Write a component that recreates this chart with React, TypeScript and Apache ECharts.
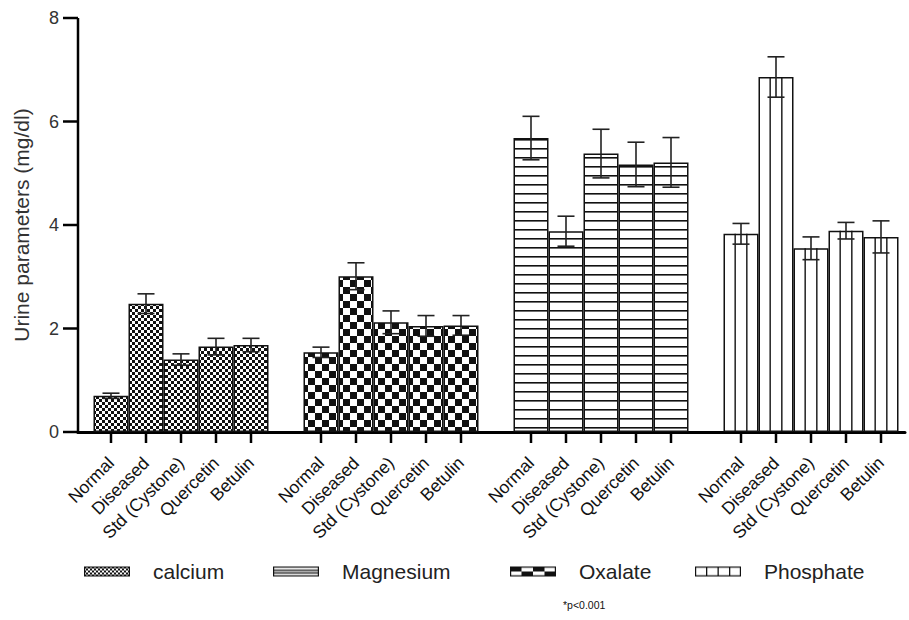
import React, { useEffect, useRef } from "react";
import * as echarts from "echarts";

const treatments = ["Normal", "Diseased", "Std (Cystone)", "Quercetin", "Betulin"];
// chart order of the four groups (left to right)
const groupNames = ["calcium", "Oxalate", "Magnesium", "Phosphate"];
const legendOrder = ["calcium", "Magnesium", "Oxalate", "Phosphate"];

const calciumMean = [0.7, 2.48, 1.4, 1.65, 1.68];
const calciumErr = [0.05, 0.19, 0.11, 0.16, 0.13];
const oxalateMean = [1.54, 3.01, 2.12, 2.05, 2.06];
const oxalateErr = [0.1, 0.26, 0.22, 0.2, 0.19];
const magnesiumMean = [5.68, 3.88, 5.38, 5.17, 5.21];
const magnesiumErr = [0.42, 0.29, 0.47, 0.43, 0.48];
const phosphateMean = [3.83, 6.86, 3.55, 3.89, 3.77];
const phosphateErr = [0.2, 0.39, 0.22, 0.16, 0.31];

const yMin = 0;
const yMax = 8;
const yInterval = 2;
const yTicks = [0, 2, 4, 6, 8];

const FONT = "'Liberation Sans', Arial, sans-serif";

function makeCanvas(w: number, h: number, draw: (ctx: CanvasRenderingContext2D) => void) {
  const c = document.createElement("canvas");
  c.width = w;
  c.height = h;
  const ctx = c.getContext("2d")!;
  ctx.fillStyle = "#ffffff";
  ctx.fillRect(0, 0, w, h);
  ctx.fillStyle = "#111111";
  draw(ctx);
  return c;
}

function makeIcon(draw: (ctx: CanvasRenderingContext2D) => void) {
  const c = makeCanvas(46, 10, (ctx) => {
    draw(ctx);
    ctx.strokeStyle = "#111";
    ctx.lineWidth = 1.2;
    ctx.strokeRect(0.6, 0.6, 44.8, 8.8);
  });
  return "image://" + c.toDataURL();
}

export default function App() {
  const ref = useRef<HTMLDivElement>(null);
  useEffect(() => {
    if (!ref.current) return;
    const chart = echarts.init(ref.current, undefined, { renderer: "svg" });

    const means = [calciumMean, oxalateMean, magnesiumMean, phosphateMean];
    const errs = [calciumErr, oxalateErr, magnesiumErr, phosphateErr];

    const categories: string[] = [];
    const slotOf: number[][] = [];
    groupNames.forEach((_, g) => {
      if (g > 0) categories.push("");
      slotOf.push([]);
      treatments.forEach((t) => {
        slotOf[g].push(categories.length);
        categories.push(t);
      });
    });

    const fineChecker = makeCanvas(6, 6, (ctx) => {
      ctx.fillRect(0, 0, 3, 3);
      ctx.fillRect(3, 3, 3, 3);
    });
    const bigChecker = makeCanvas(14, 14, (ctx) => {
      ctx.fillRect(0, 0, 7, 7);
      ctx.fillRect(7, 7, 7, 7);
    });
    const hLines = makeCanvas(6, 9, (ctx) => {
      ctx.fillRect(0, 4, 6, 1.6);
    });
    const fills: any[] = [
      { image: fineChecker, repeat: "repeat" },
      { image: bigChecker, repeat: "repeat" },
      { image: hLines, repeat: "repeat" },
      "#ffffff",
    ];

    const icons: Record<string, string> = {
      calcium: makeIcon((ctx) => {
        for (let x = 0; x < 46; x += 4) {
          for (let y = 0; y < 10; y += 4) {
            ctx.fillRect(x, y, 2, 2);
            ctx.fillRect(x + 2, y + 2, 2, 2);
          }
        }
      }),
      Magnesium: makeIcon((ctx) => {
        ctx.fillRect(0, 3.2, 46, 1.3);
        ctx.fillRect(0, 5.8, 46, 1.3);
      }),
      Oxalate: makeIcon((ctx) => {
        for (let k = 0; k < 4; k++) {
          const x = k * 11.5;
          if (k % 2 === 0) ctx.fillRect(x, 0, 11.5, 5);
          else ctx.fillRect(x, 5, 11.5, 5);
        }
      }),
      Phosphate: makeIcon((ctx) => {
        ctx.fillRect(11, 0, 1.3, 10);
        ctx.fillRect(22.5, 0, 1.3, 10);
        ctx.fillRect(34, 0, 1.3, 10);
      }),
    };

    const barSeries = groupNames.map((name, g) => ({
      name,
      type: "bar",
      xAxisIndex: 0,
      yAxisIndex: 0,
      barGap: "-100%",
      barCategoryGap: "0%",
      itemStyle: { color: fills[g], borderColor: "#111", borderWidth: 1.5 },
      emphasis: { disabled: true },
      data: categories.map((_, idx) => {
        const i = slotOf[g].indexOf(idx);
        return i >= 0 ? means[g][i] : "-";
      }),
      z: 2,
    }));

    const phosphateIdx = groupNames.indexOf("Phosphate");
    const hatchSeries = {
      type: "custom",
      xAxisIndex: 0,
      yAxisIndex: 0,
      z: 3,
      silent: true,
      data: treatments.map((_, i) => [slotOf[phosphateIdx][i], means[phosphateIdx][i]]),
      renderItem: (params: any, api: any) => {
        const top = api.coord([api.value(0), api.value(1)]);
        const base = api.coord([api.value(0), 0]);
        const w = api.size([1, 0])[0];
        const left = top[0] - w / 2;
        const style = { stroke: "#111", lineWidth: 1.4 };
        return {
          type: "group",
          children: [1, 2].map((k) => ({
            type: "line",
            shape: { x1: left + (w * k) / 3, y1: top[1], x2: left + (w * k) / 3, y2: base[1] },
            style,
          })),
        };
      },
    };

    const errData: number[][] = [];
    groupNames.forEach((_, g) => {
      treatments.forEach((__, i) => {
        errData.push([slotOf[g][i], means[g][i], errs[g][i]]);
      });
    });

    const errSeries = {
      type: "custom",
      xAxisIndex: 0,
      yAxisIndex: 0,
      z: 5,
      silent: true,
      data: errData,
      renderItem: (params: any, api: any) => {
        const x = api.value(0);
        const m = api.value(1);
        const e = api.value(2);
        const top = api.coord([x, m + e]);
        const bot = api.coord([x, m - e]);
        const hw = 8.5;
        const style = { stroke: "#222", lineWidth: 1.6 };
        return {
          type: "group",
          children: [
            { type: "line", shape: { x1: top[0], y1: top[1], x2: bot[0], y2: bot[1] }, style },
            { type: "line", shape: { x1: top[0] - hw, y1: top[1], x2: top[0] + hw, y2: top[1] }, style },
            { type: "line", shape: { x1: bot[0] - hw, y1: bot[1], x2: bot[0] + hw, y2: bot[1] }, style },
          ],
        };
      },
    };

    // x-axis tick marks under each labelled category (drawn via the category scale)
    const xTickSlots: number[] = [];
    slotOf.forEach((s) => s.forEach((v) => xTickSlots.push(v)));
    const xTickSeries = {
      type: "custom",
      xAxisIndex: 0,
      yAxisIndex: 0,
      z: 20,
      silent: true,
      clip: false,
      data: xTickSlots.map((s) => [s, yMin]),
      renderItem: (params: any, api: any) => {
        const p = api.coord([api.value(0), api.value(1)]);
        return {
          type: "line",
          shape: { x1: p[0], y1: p[1], x2: p[0], y2: p[1] + 11 },
          style: { stroke: "#000", lineWidth: 2.5 },
        };
      },
    };

    // y-axis line and ticks on the frame grid (value scale 0..8)
    const yAxisLineSeries = {
      type: "custom",
      xAxisIndex: 1,
      yAxisIndex: 1,
      z: 20,
      silent: true,
      clip: false,
      data: [[0, yMin, yMax]],
      renderItem: (params: any, api: any) => {
        const a = api.coord([api.value(0), api.value(1)]);
        const b = api.coord([api.value(0), api.value(2)]);
        return {
          type: "line",
          shape: { x1: a[0], y1: a[1] + 1.5, x2: b[0], y2: b[1] },
          style: { stroke: "#000", lineWidth: 2.5 },
        };
      },
    };
    const yTickSeries = {
      type: "custom",
      xAxisIndex: 1,
      yAxisIndex: 1,
      z: 20,
      silent: true,
      clip: false,
      data: yTicks.map((v) => [0, v]),
      renderItem: (params: any, api: any) => {
        const p = api.coord([api.value(0), api.value(1)]);
        return {
          type: "line",
          shape: { x1: p[0] - 15, y1: p[1], x2: p[0], y2: p[1] },
          style: { stroke: "#000", lineWidth: 2.5 },
        };
      },
    };

    const legendLeft = [84, 273, 510, 695];
    const legends = legendOrder.map((name, k) => ({
      data: [{ name, icon: icons[name] }],
      left: legendLeft[k],
      top: 561,
      padding: 0,
      itemWidth: 46,
      itemHeight: 10,
      selectedMode: false,
      textStyle: { fontSize: 21, color: "#222", fontFamily: FONT, padding: [0, 0, 0, 18] },
    }));

    const option: any = {
      animation: false,
      backgroundColor: "#ffffff",
      textStyle: { fontFamily: FONT },
      grid: [
        { left: 93.5, width: 805, top: 18, bottom: 188, containLabel: false },
        { left: 78, right: 4, top: 18, bottom: 188, containLabel: false },
      ],
      legend: legends,
      xAxis: [
        {
          type: "category",
          gridIndex: 0,
          data: categories,
          z: 10,
          axisLine: { show: false },
          axisTick: { show: false },
          axisLabel: {
            interval: 0,
            rotate: 45,
            margin: 28,
            fontSize: 17.5,
            color: "#111",
            fontFamily: FONT,
          },
          splitLine: { show: false },
        },
        {
          type: "value",
          gridIndex: 1,
          min: 0,
          max: 1,
          axisLine: { show: true, onZero: false, lineStyle: { color: "#000", width: 3 } },
          axisTick: { show: false },
          axisLabel: { show: false },
          splitLine: { show: false },
        },
      ],
      yAxis: [
        {
          type: "value",
          gridIndex: 0,
          min: yMin,
          max: yMax,
          interval: yInterval,
          offset: 15.5,
          z: 10,
          axisLine: { show: false },
          axisTick: { show: false },
          axisLabel: { fontSize: 18, color: "#333", margin: 19, fontFamily: FONT },
          splitLine: { show: false },
          name: "Urine parameters (mg/dl)",
          nameLocation: "middle",
          nameRotate: 90,
          nameGap: 46,
          nameTextStyle: { fontSize: 21, color: "#333", fontFamily: FONT },
        },
        {
          type: "value",
          gridIndex: 1,
          min: yMin,
          max: yMax,
          interval: yInterval,
          show: false,
        },
      ],
      graphic: [
        {
          type: "text",
          left: 563,
          top: 599,
          style: { text: "*p<0.001", fontSize: 10.5, fill: "#111", fontFamily: FONT },
        },
      ],
      series: [...barSeries, hatchSeries, errSeries, xTickSeries, yAxisLineSeries, yTickSeries],
    };

    chart.setOption(option);
    return () => chart.dispose();
  }, []);

  return <div ref={ref} style={{ width: 909, height: 620, position: "absolute", left: 0, top: 0, background: "#fff" }} />;
}
